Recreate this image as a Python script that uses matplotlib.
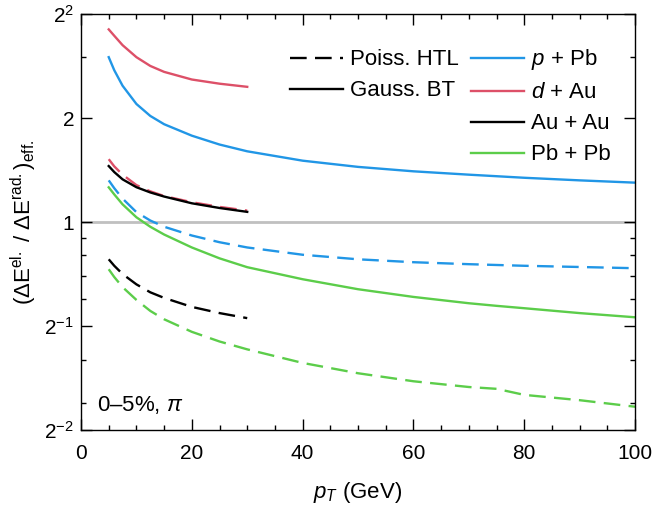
import matplotlib
matplotlib.use('Agg')
import matplotlib.pyplot as plt
from matplotlib.lines import Line2D
from matplotlib.ticker import FixedLocator, NullFormatter

plt.rcParams['font.family'] = ['Liberation Sans', 'DejaVu Sans']
plt.rcParams['mathtext.fontset'] = 'custom'
plt.rcParams['mathtext.rm'] = 'Liberation Sans'
plt.rcParams['mathtext.it'] = 'Liberation Sans:italic'
plt.rcParams['lines.scale_dashes'] = False

# pT grids (GeV): small systems stop at 30 GeV
pt_short = [5, 6, 7.5, 10, 12.5, 15, 20, 25, 30]
pt_long = [5, 6, 7.5, 10, 12.5, 15, 20, 25, 30, 40, 50, 60, 70, 75, 80, 90, 100]

# ratio of elastic to radiative effective energy loss, Gauss. BT
pPb_bt = [3.0, 2.75, 2.48, 2.196, 2.028, 1.919, 1.778, 1.676, 1.602,
          1.505, 1.444, 1.402, 1.371, 1.357, 1.343, 1.32, 1.30]
dAu_bt = [3.61, 3.46, 3.25, 3.0, 2.83, 2.72, 2.585, 2.514, 2.462]
AuAu_bt = [1.452, 1.395, 1.329, 1.261, 1.218, 1.185, 1.133, 1.098, 1.070]
PbPb_bt = [1.26, 1.202, 1.125, 1.032, 0.969, 0.920, 0.844, 0.785, 0.740,
           0.683, 0.639, 0.607, 0.582, 0.572, 0.563, 0.545, 0.530]

# same ratio, Poiss. HTL
pPb_htl = [1.32, 1.253, 1.169, 1.068, 1.010, 0.969, 0.914, 0.874, 0.844,
           0.804, 0.780, 0.765, 0.755, 0.751, 0.747, 0.741, 0.735]
dAu_htl = [1.52, 1.449, 1.371, 1.279, 1.227, 1.189, 1.141, 1.106, 1.079]
AuAu_htl = [0.78, 0.747, 0.707, 0.660, 0.626, 0.603, 0.568, 0.545, 0.527]
PbPb_htl = [0.730, 0.693, 0.648, 0.595, 0.553, 0.523, 0.481, 0.451, 0.428,
            0.391, 0.365, 0.346, 0.333, 0.329, 0.316, 0.305, 0.292]

blue, red, green = '#2196e6', '#dd5068', '#5ccd4a'
lw = 1.7
dash = (12, 6)

fig = plt.figure(figsize=(6.55, 5.15), dpi=100)
ax = fig.add_axes([0.1237, 0.165, 0.8458, 0.8078])

ax.axhline(1, color='#c0c0c0', lw=2.0, zorder=1)

ax.plot(pt_long, pPb_htl, color=blue, lw=lw, dashes=dash)
ax.plot(pt_short, dAu_htl, color=red, lw=lw, dashes=dash)
ax.plot(pt_short, AuAu_htl, color='black', lw=lw, dashes=dash)
ax.plot(pt_long, PbPb_htl, color=green, lw=lw, dashes=dash)

ax.plot(pt_long, pPb_bt, color=blue, lw=lw)
ax.plot(pt_short, dAu_bt, color=red, lw=lw)
ax.plot(pt_short, AuAu_bt, color='black', lw=lw)
ax.plot(pt_long, PbPb_bt, color=green, lw=lw)

ax.set_yscale('log', base=2)
ax.set_xlim(0, 100)
ax.set_ylim(0.25, 4)

ax.xaxis.set_major_locator(FixedLocator([0, 20, 40, 60, 80, 100]))
ax.xaxis.set_minor_locator(FixedLocator(range(0, 101, 5)))
ax.yaxis.set_major_locator(FixedLocator([0.25, 0.5, 1, 2, 4]))
ax.yaxis.set_minor_locator(FixedLocator([0.3, 0.4, 0.6, 0.7, 0.8, 0.9, 3]))
ax.yaxis.set_minor_formatter(NullFormatter())
ax.set_yticklabels([r'$2^{-2}$', r'$2^{-1}$', '1', '2', r'$2^{2}$'])

ax.tick_params(which='both', direction='in', top=True, right=True, width=1,
               labelsize=15)
ax.tick_params(which='major', length=8)
ax.tick_params(which='minor', length=3.6)
ax.tick_params(axis='x', pad=10)
ax.tick_params(axis='y', pad=5)
for s in ax.spines.values():
    s.set_linewidth(1)

ax.set_xlabel(r'$p_T$ (GeV)', fontsize=16, labelpad=12)
ax.set_ylabel(r'$(\Delta\mathrm{E}^{\mathrm{el.}}\ /\ \Delta\mathrm{E}^{\mathrm{rad.}})_{\mathrm{eff.}}$',
              fontsize=16, labelpad=4)

ax.text(2.8, 0.295, r'0–5%, $\pi$', fontsize=16, va='center')

blank = Line2D([], [], color='none')
handles = [
    Line2D([], [], color='black', lw=lw, dashes=dash),
    Line2D([], [], color='black', lw=lw),
    blank, blank,
    Line2D([], [], color=blue, lw=lw),
    Line2D([], [], color=red, lw=lw),
    Line2D([], [], color='black', lw=lw),
    Line2D([], [], color=green, lw=lw),
]
labels = ['Poiss. HTL', 'Gauss. BT', ' ', ' ',
          r'$p$ + Pb', r'$d$ + Au', 'Au + Au', 'Pb + Pb']
ax.legend(handles, labels, ncol=2, loc='upper left', bbox_to_anchor=(0.377, 0.92),
          frameon=False, fontsize=16, handlelength=2.4, handletextpad=0.3,
          columnspacing=0.55, labelspacing=0.45, borderpad=0, borderaxespad=0)

fig.savefig('out.png', dpi=100)
